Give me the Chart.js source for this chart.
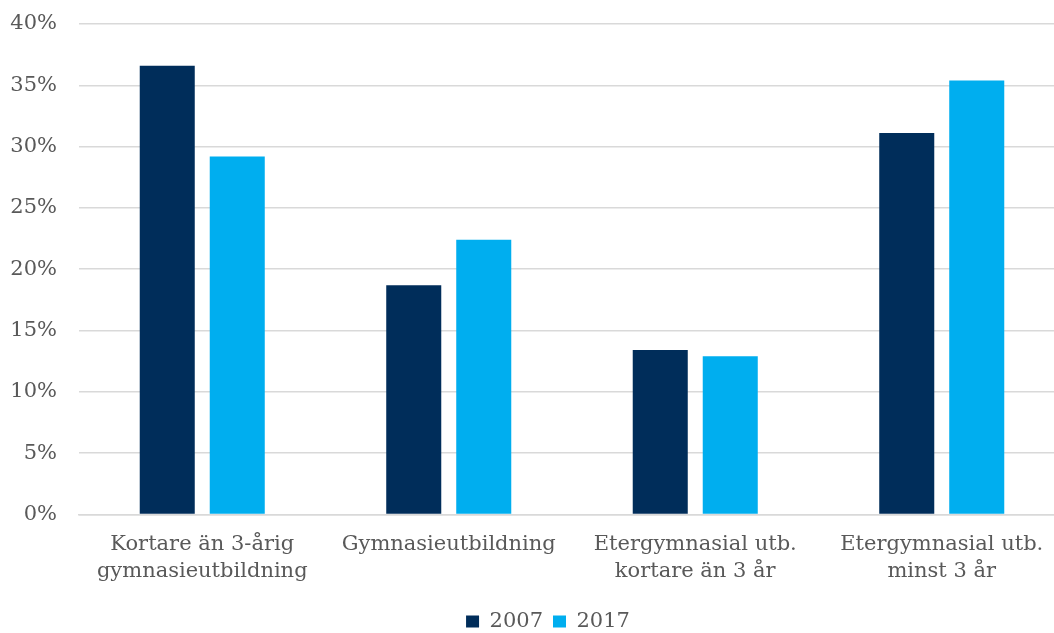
<!DOCTYPE html>
<html>
<head>
<meta charset="utf-8">
<script src="https://cdn.jsdelivr.net/npm/chart.js@4"></script>
<style>
  html, body { margin: 0; padding: 0; background: #fff; overflow: hidden; }
  #wrap { position: relative; width: 1096px; height: 642px; }
</style>
</head>
<body>
<div id="wrap"><canvas id="eduChart"></canvas></div>
<script>
// --- Data ---
const categories = [
    ['Kortare än 3-årig', 'gymnasieutbildning'],
    'Gymnasieutbildning',
    ['Etergymnasial utb.', 'kortare än 3 år'],
    ['Etergymnasial utb.', 'minst 3 år']
];
const years = ['2007', '2017'];
const values2007 = [36.6, 18.7, 13.4, 31.1];
const values2017 = [29.2, 22.4, 12.9, 35.4];
const yTicks = [0, 5, 10, 15, 20, 25, 30, 35, 40];

// --- Styling ---
const textColor = '#595959';
const gridColor = '#d9d9d9';
const fontFamily = '"DejaVu Serif", "Liberation Serif", serif';

const ctx = document.getElementById('eduChart').getContext('2d');
new Chart(ctx, {
    type: 'bar',
    data: {
        labels: categories,
        datasets: [
            { label: years[0], data: values2007, backgroundColor: '#002D5A' },
            { label: years[1], data: values2017, backgroundColor: '#00AEEF' }
        ]
    },
    options: {
        responsive: true,
        maintainAspectRatio: false,
        animation: false,
        categoryPercentage: 0.568,
        barPercentage: 0.786,
        layout: { padding: 0 },
        plugins: {
            legend: {
                position: 'bottom',
                labels: {
                    color: textColor,
                    font: { family: fontFamily, size: 21 },
                    boxWidth: 13,
                    boxHeight: 12,
                    padding: 10
                }
            },
            tooltip: { enabled: false }
        },
        scales: {
            x: {
                grid: { display: false, drawTicks: false },
                border: { color: gridColor, width: 1.5 },
                ticks: {
                    color: textColor,
                    font: { family: fontFamily, size: 21, lineHeight: 1.3 },
                    padding: 16,
                    maxRotation: 0
                }
            },
            y: {
                min: yTicks[0],
                max: yTicks[yTicks.length - 1],
                afterFit: s => {
                    s.width = 79;
                    s.paddingTop = 24;
                    s.paddingBottom = 0;
                },
                afterBuildTicks: s => { s.ticks = yTicks.map(v => ({ value: v })); },
                grid: { color: gridColor, lineWidth: 1.5, drawTicks: false },
                border: { display: false },
                ticks: {
                    color: textColor,
                    font: { family: fontFamily, size: 21 },
                    padding: 22,
                    callback: v => v + '%'
                }
            },
            // empty right-hand strip so the plot ends where the reference's does
            yRight: {
                position: 'right',
                afterFit: s => { s.width = 31; },
                grid: { display: false, drawTicks: false },
                border: { display: false },
                ticks: { display: false }
            }
        }
    }
});
</script>
</body>
</html>
